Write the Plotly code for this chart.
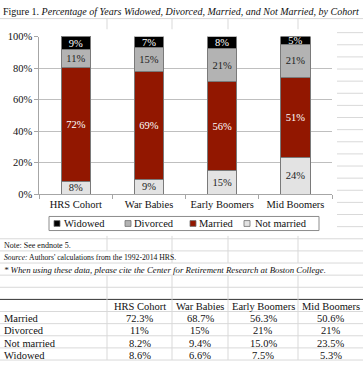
import plotly.graph_objects as go

# ---------------- data ----------------
cohorts = ["HRS Cohort", "War Babies", "Early Boomers", "Mid Boomers"]
married = [72.3, 68.7, 56.3, 50.6]
divorced = [11, 15, 21, 21]
not_married = [8.2, 9.4, 15.0, 23.5]
widowed = [8.6, 6.6, 7.5, 5.3]
y_ticks = [0, 20, 40, 60, 80, 100]
y_tick_labels = ["0%", "20%", "40%", "60%", "80%", "100%"]

series_names = ["Not married", "Married", "Divorced", "Widowed"]
series_values = [not_married, married, divorced, widowed]
series_colors = ["#E3E3E3", "#921700", "#B3B3B3", "#000000"]
series_text_colors = ["#222222", "#FFFFFF", "#222222", "#FFFFFF"]

table_rows = ["Married", "Divorced", "Not married", "Widowed"]
table_values = [married, divorced, not_married, widowed]
table_formats = ["{:.1f}%", "{:.0f}%", "{:.1f}%", "{:.1f}%"]

title_plain = "Figure 1. "
title_italic = "Percentage of Years Widowed, Divorced, Married, and Not Married, by Cohort"
note_text = "Note: See endnote 5."
source_label = "Source:"
source_text = " Authors' calculations from the 1992-2014 HRS."
cite_text = "* When using these data, please cite the Center for Retirement Research at Boston College."

# ---------------- geometry helpers ----------------
W, H = 363, 367
FONT = "Liberation Serif"
GRID = "#D9D9D9"


def px(x):
    return x / W


def py(y):
    return 1 - y / H


fig = go.Figure()
for name, vals, col, tcol in zip(series_names, series_values, series_colors, series_text_colors):
    fig.add_trace(go.Bar(
        x=cohorts, y=vals, name=name,
        marker=dict(color=col, line=dict(color="#7A7A7A", width=1)),
        texttemplate="%{y:.0f}%", textposition="inside", insidetextanchor="middle",
        textangle=0, constraintext="none",
        textfont=dict(family=FONT, size=10.5, color=tcol),
        showlegend=False, hoverinfo="skip",
    ))

# plot area in pixels
X0, X1 = 39.3, 332.0
Y0, Y1 = 195.2, 32.5

fig.update_layout(
    width=W, height=H, autosize=False,
    margin=dict(l=0, r=0, t=0, b=0),
    paper_bgcolor="white", plot_bgcolor="white",
    barmode="stack", bargap=0.6,
    uniformtext=dict(minsize=10.5, mode="show"),
    font=dict(family=FONT, size=10.5, color="#111111"),
    xaxis=dict(domain=[px(X0), px(X1)], showgrid=False, showline=True,
               linecolor="#A6A6A6", linewidth=1, ticks="outside", ticklen=4,
               tickcolor="#A6A6A6", tickson="boundaries",
               tickfont=dict(family=FONT, size=10.5, color="#111111")),
    yaxis=dict(domain=[py(Y0), py(Y1)], range=[0, 100], tickmode="array",
               tickvals=y_ticks, ticktext=y_tick_labels,
               showgrid=True, gridcolor="#BFBFBF", gridwidth=1,
               showline=True, linecolor="#A6A6A6", linewidth=1,
               ticks="outside", ticklen=4, tickcolor="#A6A6A6", zeroline=False,
               tickfont=dict(family=FONT, size=10.5, color="#111111")),
)

shapes = []


def hline(y, xa, xb, color=GRID, width=1):
    shapes.append(dict(type="line", xref="paper", yref="paper",
                       x0=px(xa), x1=px(xb), y0=py(y), y1=py(y),
                       line=dict(color=color, width=width), layer="below"))


def vline(x, ya, yb, color=GRID, width=1):
    shapes.append(dict(type="line", xref="paper", yref="paper",
                       x0=px(x), x1=px(x), y0=py(ya), y1=py(yb),
                       line=dict(color=color, width=width), layer="below"))


# spreadsheet cell grid
col_lines = [107, 172, 228, 298]
CHART_R, CHART_T, CHART_B = 337, 25, 238
hline(14, 0, W)
row_y = 28.5
while row_y < CHART_B:
    hline(row_y, CHART_R, W)
    row_y += 12.5
for x in col_lines:
    vline(x, 14, CHART_T)
lower_rows = [241 + 12.5 * k for k in range(11)]  # 241 ... 366
for y in lower_rows:
    if abs(y - 303.5) < 0.1:
        continue
    hline(y, 0, W)
hline(303.5, 0, W, color="#333333", width=1)
# vertical grid segments below the chart, hidden where text overflows
hidden = {253.5: [107], 266: [107, 172, 228, 298]}
segs = [(CHART_B, 241)] + [(lower_rows[i], lower_rows[i + 1]) for i in range(len(lower_rows) - 1)]
for (ya, yb) in segs:
    for x in col_lines:
        if x in hidden.get(ya, []):
            continue
        vline(x, ya, yb)

# legend (manual)
LEG = dict(x0=49, x1=319, y0=218, y1=232.5)
shapes.append(dict(type="rect", xref="paper", yref="paper",
                   x0=px(LEG["x0"]), x1=px(LEG["x1"]), y0=py(LEG["y0"]), y1=py(LEG["y1"]),
                   line=dict(color="#8C8C8C", width=1), fillcolor="white"))
annotations = []
legend_order = [3, 2, 1, 0]
leg_sq_x = [57, 128, 193, 247]
leg_txt_x = [61.5, 131.5, 197, 252.5]
ly = (LEG["y0"] + LEG["y1"]) / 2
for idx, sx, tx in zip(legend_order, leg_sq_x, leg_txt_x):
    shapes.append(dict(type="rect", xref="paper", yref="paper",
                       x0=px(sx - 3), x1=px(sx + 3), y0=py(ly + 3), y1=py(ly - 3),
                       line=dict(color="#6E6E6E", width=0.8), fillcolor=series_colors[idx]))
    annotations.append(dict(x=px(tx), y=py(ly + 0.5), xref="paper", yref="paper",
                            text=series_names[idx], showarrow=False, xanchor="left",
                            yanchor="middle", font=dict(family=FONT, size=10.5, color="#111111")))

# title
annotations.append(dict(x=px(1), y=py(7), xref="paper", yref="paper",
                        text=title_plain + "<i>" + title_italic + "</i>", showarrow=False,
                        xanchor="left", yanchor="middle",
                        font=dict(family=FONT, size=10, color="#111111")))
# notes
note_font = dict(family=FONT, size=8, color="#111111")
source_font = dict(family=FONT, size=7.7, color="#111111")
cite_font = dict(family=FONT, size=8.8, color="#111111")
annotations.append(dict(x=px(1.5), y=py(248), xref="paper", yref="paper", text=note_text,
                        showarrow=False, xanchor="left", yanchor="middle", font=note_font))
annotations.append(dict(x=px(1.5), y=py(260.5), xref="paper", yref="paper",
                        text="<i>" + source_label + "</i>" + source_text,
                        showarrow=False, xanchor="left", yanchor="middle", font=source_font))
annotations.append(dict(x=px(1.5), y=py(273), xref="paper", yref="paper",
                        text="<i>" + cite_text + "</i>",
                        showarrow=False, xanchor="left", yanchor="middle", font=cite_font))

# table
col_centers = [(107 + 172) / 2, (172 + 228) / 2, (228 + 298) / 2, (298 + 363) / 2]
tfont = dict(family=FONT, size=10.5, color="#111111")
header_y = 311
for cx, name in zip(col_centers, cohorts):
    annotations.append(dict(x=px(cx), y=py(header_y), xref="paper", yref="paper", text=name,
                            showarrow=False, xanchor="center", yanchor="middle", font=tfont))
for r, (rname, vals, fmt) in enumerate(zip(table_rows, table_values, table_formats)):
    yy = header_y + 12.5 * (r + 1)
    annotations.append(dict(x=px(1.5), y=py(yy), xref="paper", yref="paper", text=rname,
                            showarrow=False, xanchor="left", yanchor="middle", font=tfont))
    for cx, v in zip(col_centers, vals):
        annotations.append(dict(x=px(cx), y=py(yy), xref="paper", yref="paper",
                                text=fmt.format(v), showarrow=False, xanchor="center",
                                yanchor="middle", font=tfont))

fig.update_layout(shapes=shapes, annotations=annotations)
fig.write_html("out.html", config={"displayModeBar": False},
               post_script="document.body.style.margin='0';document.body.style.overflow='hidden';")
